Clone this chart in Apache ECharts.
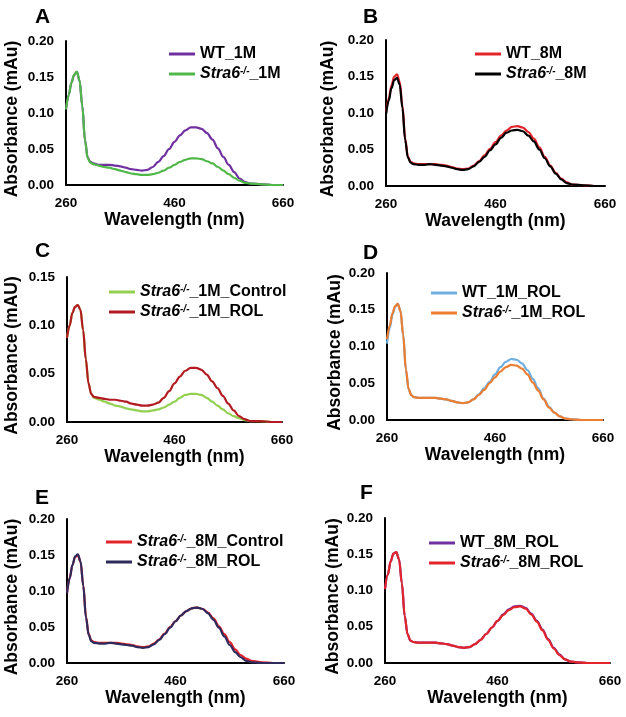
<!DOCTYPE html>
<html><head><meta charset="utf-8">
<script src="https://cdn.jsdelivr.net/npm/echarts@6/dist/echarts.min.js"></script>
<style>html,body{margin:0;padding:0;background:#fff}#c{width:626px;height:717px}</style>
</head><body><div id="c"></div>
<script>
// ---- data ----
const wavelengths = [260,265,270,275,280,285,290,295,300,305,310,320,330,340,350,360,370,380,390,400,410,420,430,440,450,460,470,480,490,500,510,520,530,540,550,560,570,580,590,600,620,640,660];
const xTickValues = [260,460,660];

const A_WT_1M = [0.105,0.125,0.142,0.153,0.157,0.145,0.110,0.062,0.038,0.032,0.030,0.028,0.028,0.028,0.027,0.026,0.024,0.022,0.021,0.020,0.021,0.025,0.032,0.040,0.050,0.060,0.069,0.076,0.080,0.080,0.078,0.072,0.063,0.051,0.039,0.028,0.018,0.009,0.004,0.002,0.001,0.000,0.000];
const A_KO_1M = [0.105,0.125,0.142,0.153,0.157,0.145,0.110,0.062,0.037,0.031,0.029,0.027,0.025,0.024,0.022,0.020,0.018,0.016,0.015,0.014,0.014,0.015,0.017,0.020,0.024,0.028,0.032,0.035,0.037,0.037,0.036,0.033,0.030,0.025,0.020,0.015,0.010,0.006,0.003,0.002,0.001,0.000,0.000];
const B_WT_8M = [0.100,0.120,0.138,0.150,0.153,0.143,0.110,0.065,0.040,0.033,0.031,0.030,0.030,0.030,0.030,0.029,0.028,0.026,0.024,0.023,0.024,0.028,0.034,0.042,0.051,0.060,0.069,0.076,0.081,0.082,0.080,0.074,0.065,0.053,0.040,0.028,0.018,0.010,0.005,0.002,0.001,0.000,0.000];
const B_KO_8M = [0.098,0.117,0.134,0.145,0.148,0.139,0.107,0.063,0.039,0.032,0.030,0.029,0.029,0.030,0.029,0.028,0.027,0.025,0.023,0.022,0.023,0.027,0.033,0.040,0.049,0.057,0.066,0.073,0.076,0.077,0.075,0.069,0.061,0.050,0.038,0.027,0.017,0.009,0.004,0.002,0.001,0.000,0.000];
const C_KO_1M_Control = [0.087,0.100,0.113,0.119,0.121,0.116,0.095,0.065,0.040,0.029,0.025,0.023,0.021,0.019,0.017,0.016,0.014,0.013,0.012,0.011,0.011,0.012,0.013,0.015,0.018,0.021,0.025,0.028,0.029,0.029,0.028,0.025,0.021,0.017,0.013,0.009,0.006,0.004,0.002,0.001,0.001,0.000,0.000];
const C_KO_1M_ROL = [0.087,0.100,0.113,0.119,0.121,0.116,0.095,0.065,0.040,0.029,0.026,0.025,0.024,0.023,0.023,0.022,0.021,0.019,0.018,0.017,0.017,0.018,0.020,0.025,0.032,0.040,0.047,0.053,0.056,0.056,0.054,0.049,0.042,0.035,0.027,0.019,0.012,0.006,0.003,0.001,0.001,0.000,0.000];
const D_WT_1M_ROL = [0.104,0.125,0.143,0.154,0.158,0.148,0.115,0.068,0.042,0.034,0.031,0.030,0.030,0.030,0.030,0.029,0.028,0.026,0.024,0.023,0.024,0.028,0.035,0.043,0.052,0.062,0.072,0.079,0.083,0.082,0.077,0.068,0.056,0.043,0.029,0.018,0.010,0.005,0.002,0.001,0.000,0.000,0.000];
const D_KO_1M_ROL = [0.110,0.128,0.145,0.155,0.158,0.148,0.116,0.069,0.042,0.034,0.031,0.030,0.030,0.030,0.030,0.029,0.028,0.026,0.024,0.023,0.024,0.028,0.034,0.041,0.050,0.058,0.066,0.072,0.075,0.074,0.070,0.062,0.051,0.040,0.028,0.017,0.010,0.005,0.002,0.001,0.000,0.000,0.000];
const E_KO_8M_Control = [0.097,0.118,0.136,0.147,0.150,0.140,0.108,0.064,0.040,0.031,0.029,0.028,0.028,0.028,0.028,0.027,0.026,0.025,0.023,0.022,0.023,0.027,0.033,0.041,0.050,0.058,0.066,0.072,0.076,0.077,0.075,0.070,0.062,0.051,0.040,0.029,0.019,0.011,0.006,0.003,0.001,0.000,0.000];
const E_KO_8M_ROL = [0.097,0.118,0.136,0.148,0.151,0.141,0.107,0.063,0.039,0.030,0.028,0.027,0.027,0.028,0.027,0.026,0.025,0.024,0.022,0.021,0.022,0.026,0.032,0.040,0.049,0.058,0.066,0.072,0.076,0.077,0.075,0.069,0.060,0.049,0.037,0.025,0.015,0.008,0.003,0.001,0.000,0.000,0.000];
const F_WT_8M_ROL = [0.102,0.122,0.140,0.151,0.153,0.143,0.110,0.065,0.040,0.031,0.029,0.028,0.028,0.028,0.028,0.027,0.026,0.024,0.022,0.021,0.022,0.026,0.032,0.040,0.049,0.058,0.067,0.074,0.078,0.079,0.076,0.068,0.058,0.046,0.033,0.021,0.012,0.005,0.002,0.001,0.000,0.000,0.000];
const F_KO_8M_ROL = [0.102,0.122,0.140,0.151,0.153,0.143,0.110,0.065,0.040,0.031,0.029,0.028,0.028,0.028,0.028,0.027,0.026,0.024,0.022,0.021,0.022,0.026,0.032,0.040,0.049,0.058,0.066,0.073,0.077,0.078,0.075,0.067,0.057,0.045,0.032,0.020,0.011,0.005,0.002,0.001,0.000,0.000,0.000];

// ---- panel layout ----
const FONT = '"Liberation Sans", Arial, sans-serif';
const panels = [
  {letter:'A', lx:35, ly:7, grid:{left:66, top:41, width:217, height:144}, yMax:0.20, yName:'Absorbance (mAu)', yGap:45,
   labels:['WT_1M','Stra6-/-_1M'], series:[A_WT_1M, A_KO_1M], colors:['#7030A0','#50B848'], legend:{left:169, top:46}},
  {letter:'B', lx:363, ly:7, grid:{left:386, top:40, width:219, height:146}, yMax:0.20, yName:'Absorbance (mAu)', yGap:49,
   labels:['WT_8M','Stra6-/-_8M'], series:[B_WT_8M, B_KO_8M], colors:['#E3242B','#000000'], legend:{left:475, top:46}},
  {letter:'C', lx:35, ly:241, grid:{left:67, top:277, width:215, height:145}, yMax:0.15, yName:'Absorbance (mAU)', yGap:46,
   labels:['Stra6-/-_1M_Control','Stra6-/-_1M_ROL'], series:[C_KO_1M_Control, C_KO_1M_ROL], colors:['#92D050','#B31B22'], legend:{left:109, top:284}},
  {letter:'D', lx:363, ly:243, grid:{left:387, top:273, width:216, height:147}, yMax:0.20, yName:'Absorbance (mAu)', yGap:43,
   labels:['WT_1M_ROL','Stra6-/-_1M_ROL'], series:[D_WT_1M_ROL, D_KO_1M_ROL], colors:['#6FAEDF','#ED7D31'], legend:{left:431, top:285}},
  {letter:'E', lx:35, ly:488, grid:{left:67, top:519, width:217, height:144}, yMax:0.20, yName:'Absorbance (mAu)', yGap:46,
   labels:['Stra6-/-_8M_Control','Stra6-/-_8M_ROL'], series:[E_KO_8M_Control, E_KO_8M_ROL], colors:['#E3242B','#2E2A5C'], legend:{left:106, top:534}},
  {letter:'F', lx:360, ly:483, grid:{left:385, top:518, width:225, height:145}, yMax:0.20, yName:'Absorbance (mAu)', yGap:43,
   labels:['WT_8M_ROL','Stra6-/-_8M_ROL'], series:[F_WT_8M_ROL, F_KO_8M_ROL], colors:['#7030A0','#E3242B'], legend:{left:429, top:535}}
];

function fmtLegend(name){
  const label = name.slice(2);
  if (label.startsWith('Stra6-/-')) {
    return '{i|Stra6}{s|-/-}{n|' + label.slice(8) + '}';
  }
  return '{n|' + label + '}';
}

const option = {
  backgroundColor:'#fff',
  animation:false,
  grid:[], xAxis:[], yAxis:[], series:[], legend:[], graphic:[]
};

panels.forEach((p, k) => {
  option.grid.push(Object.assign({containLabel:false}, p.grid));
  option.xAxis.push({
    type:'value', gridIndex:k, min:260, max:660,
    name:'Wavelength (nm)', nameLocation:'middle', nameGap:26,
    nameTextStyle:{fontFamily:FONT, fontWeight:'bold', fontSize:17.5, color:'#000'},
    axisLine:{show:true, onZero:false, lineStyle:{color:'#000', width:2}},
    axisTick:{show:false},
    splitLine:{show:false},
    axisLabel:{customValues:xTickValues, margin:11, fontFamily:FONT, fontWeight:'bold', fontSize:13.5, color:'#000', showMinLabel:true, showMaxLabel:true}
  });
  option.yAxis.push({
    type:'value', gridIndex:k, min:0, max:p.yMax, interval:0.05,
    name:p.yName, nameLocation:'middle', nameGap:p.yGap,
    nameTextStyle:{fontFamily:FONT, fontWeight:'bold', fontSize:17.5, color:'#000', padding:[0,12,0,0]},
    axisLine:{show:true, lineStyle:{color:'#000', width:2}},
    axisTick:{show:false},
    splitLine:{show:false},
    axisLabel:{margin:12, fontFamily:FONT, fontWeight:'bold', fontSize:13.5, color:'#000', formatter:v => v.toFixed(2)}
  });
  const names = [];
  p.series.forEach((vals, j) => {
    const nm = p.letter + ':' + p.labels[j];
    names.push(nm);
    option.series.push({
      type:'line', name:nm, xAxisIndex:k, yAxisIndex:k,
      data:wavelengths.map((w, i) => [w, vals[i]]),
      showSymbol:false, symbol:'none', smooth:0.35, smoothMonotone:'x',
      lineStyle:{color:p.colors[j], width:2.2}, itemStyle:{color:p.colors[j]},
      z: 2 + j
    });
  });
  option.legend.push({
    data:names, orient:'vertical', left:p.legend.left, top:p.legend.top, padding:0,
    icon:'rect', itemWidth:26, itemHeight:3, itemGap:4,
    formatter:fmtLegend, selectedMode:false,
    textStyle:{
      color:'#000', fontFamily:FONT, fontWeight:'bold', fontSize:16, lineHeight:16,
      rich:{
        i:{fontFamily:FONT, fontWeight:'bold', fontStyle:'italic', fontSize:16, lineHeight:16, color:'#000'},
        s:{fontFamily:FONT, fontWeight:'bold', fontStyle:'italic', fontSize:10, lineHeight:16, verticalAlign:'top', padding:[0,0,6,0], color:'#000'},
        n:{fontFamily:FONT, fontWeight:'bold', fontSize:16, lineHeight:16, color:'#000'}
      }
    }
  });
  option.graphic.push({
    type:'text', left:p.lx, top:p.ly,
    style:{text:p.letter, font:'bold 21px ' + FONT, fill:'#000'}
  });
});

const chart = echarts.init(document.getElementById('c'), null, {renderer:'canvas'});
chart.setOption(option);
</script>
</body></html>
